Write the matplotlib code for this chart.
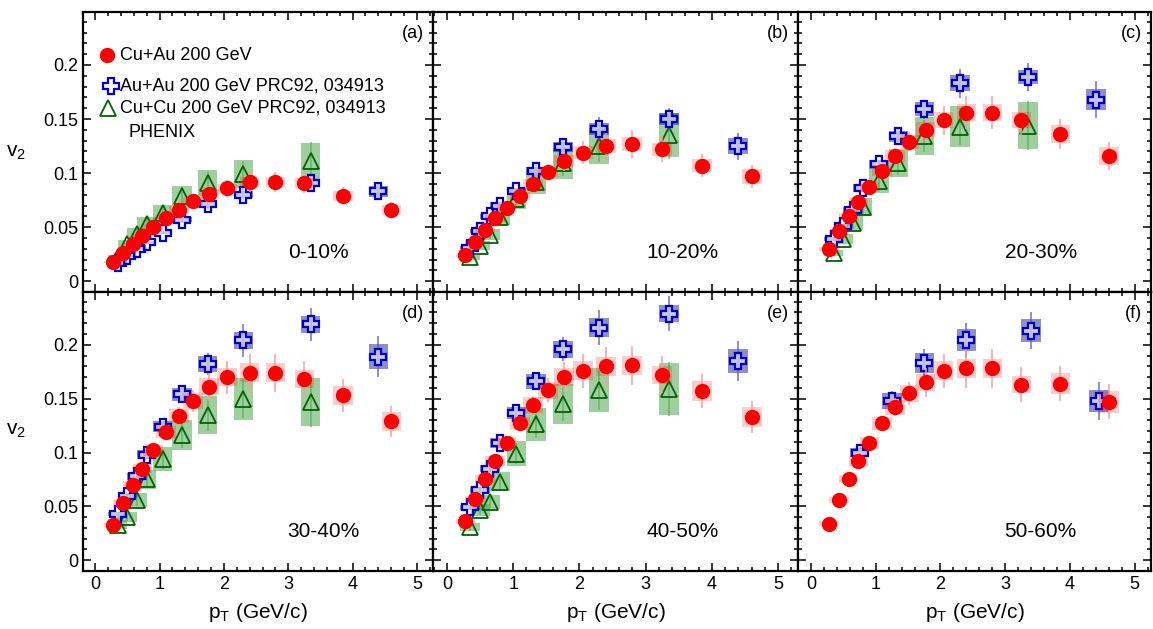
import numpy as np
import matplotlib
matplotlib.use("Agg")
from matplotlib import pyplot as plt
from matplotlib.ticker import MultipleLocator, FuncFormatter

plt.rcParams['font.family'] = ['Liberation Sans', 'DejaVu Sans']
plt.rcParams['mathtext.fontset'] = 'custom'
plt.rcParams['mathtext.rm'] = 'Liberation Sans'
plt.rcParams['mathtext.it'] = 'Liberation Sans:italic'

# Cu+Au 200 GeV (red circles)
pt_cuau = [0.28, 0.43, 0.58, 0.73, 0.90, 1.10, 1.30, 1.52, 1.77, 2.05, 2.40, 2.80, 3.25, 3.85, 4.60]
v2_cuau_a = [0.018, 0.026, 0.034, 0.042, 0.050, 0.058, 0.066, 0.074, 0.081, 0.086, 0.092, 0.092, 0.091, 0.079, 0.066]
v2_cuau_b = [0.024, 0.036, 0.047, 0.058, 0.068, 0.079, 0.090, 0.101, 0.111, 0.119, 0.125, 0.127, 0.122, 0.107, 0.097]
v2_cuau_c = [0.030, 0.046, 0.060, 0.073, 0.087, 0.102, 0.116, 0.129, 0.140, 0.149, 0.156, 0.156, 0.149, 0.136, 0.116]
v2_cuau_d = [0.033, 0.053, 0.070, 0.085, 0.102, 0.119, 0.134, 0.148, 0.161, 0.170, 0.174, 0.174, 0.168, 0.153, 0.129]
v2_cuau_e = [0.036, 0.057, 0.075, 0.092, 0.109, 0.127, 0.144, 0.158, 0.170, 0.176, 0.180, 0.181, 0.172, 0.157, 0.133]
v2_cuau_f = [0.034, 0.056, 0.075, 0.092, 0.109, 0.127, 0.142, 0.155, 0.165, 0.176, 0.178, 0.178, 0.163, 0.164, 0.147]
stat_cuau = [0.04, 0.04, 0.04, 0.04, 0.05, 0.05, 0.06, 0.07, 0.08, 0.09, 0.10, 0.10, 0.10, 0.10, 0.11]
sys_cuau = [0.06, 0.05, 0.05, 0.05, 0.05, 0.05, 0.05, 0.05, 0.05, 0.05, 0.05, 0.05, 0.05, 0.06, 0.07]

# Au+Au 200 GeV PHENIX (blue crosses)
pt_auau = [0.35, 0.50, 0.65, 0.80, 1.05, 1.35, 1.75, 2.30, 3.35, 4.40]
v2_auau_a = [0.017, 0.023, 0.030, 0.036, 0.045, 0.057, 0.071, 0.080, 0.091, 0.083]
v2_auau_b = [0.031, 0.046, 0.060, 0.070, 0.083, 0.102, 0.124, 0.141, 0.150, 0.125]
v2_auau_c = [0.039, 0.051, 0.066, 0.086, 0.108, 0.134, 0.159, 0.183, 0.189, 0.168]
v2_auau_d = [0.043, 0.060, 0.078, 0.098, 0.124, 0.154, 0.182, 0.204, 0.219, 0.189]
v2_auau_e = [0.049, 0.065, 0.085, 0.109, 0.137, 0.166, 0.196, 0.216, 0.229, 0.185]
stat_auau = [0.04, 0.04, 0.04, 0.04, 0.04, 0.05, 0.055, 0.075, 0.07, 0.10]
sys_auau = [0.04, 0.04, 0.04, 0.04, 0.04, 0.04, 0.04, 0.04, 0.035, 0.06]
pt_auau_f = [0.75, 1.25, 1.75, 2.40, 3.40, 4.45]
v2_auau_f = [0.100, 0.148, 0.183, 0.204, 0.213, 0.148]
stat_auau_f = [0.05, 0.06, 0.07, 0.08, 0.08, 0.12]
sys_auau_f = [0.04, 0.05, 0.05, 0.05, 0.05, 0.07]

# Cu+Cu 200 GeV PHENIX (green triangles)
pt_cucu = [0.35, 0.50, 0.65, 0.80, 1.05, 1.35, 1.75, 2.30, 3.35]
v2_cucu_a = [0.022, 0.034, 0.044, 0.053, 0.063, 0.079, 0.091, 0.099, 0.111]
v2_cucu_b = [0.022, 0.033, 0.043, 0.059, 0.076, 0.092, 0.109, 0.125, 0.135]
v2_cucu_c = [0.026, 0.039, 0.054, 0.069, 0.093, 0.109, 0.134, 0.143, 0.144]
v2_cucu_d = [0.033, 0.040, 0.056, 0.075, 0.094, 0.116, 0.135, 0.150, 0.147]
v2_cucu_e = [0.031, 0.047, 0.054, 0.073, 0.099, 0.126, 0.145, 0.158, 0.159]
stat_cucu = [0.12, 0.10, 0.10, 0.10, 0.10, 0.10, 0.11, 0.12, 0.16]
sys_cucu = [0.12, 0.12, 0.12, 0.12, 0.12, 0.12, 0.13, 0.13, 0.15]

panel_tags = ['(a)', '(b)', '(c)', '(d)', '(e)', '(f)']
centralities = ['0-10%', '10-20%', '20-30%', '30-40%', '40-50%', '50-60%']

cuau = [v2_cuau_a, v2_cuau_b, v2_cuau_c, v2_cuau_d, v2_cuau_e, v2_cuau_f]
auau = [(pt_auau, v2_auau_a, stat_auau, sys_auau), (pt_auau, v2_auau_b, stat_auau, sys_auau),
        (pt_auau, v2_auau_c, stat_auau, sys_auau), (pt_auau, v2_auau_d, stat_auau, sys_auau),
        (pt_auau, v2_auau_e, stat_auau, sys_auau), (pt_auau_f, v2_auau_f, stat_auau_f, sys_auau_f)]
cucu = [v2_cucu_a, v2_cucu_b, v2_cucu_c, v2_cucu_d, v2_cucu_e, None]


def draw_series(ax, x, y, stat, sys, boxcol, barcol, z, **mk):
    x = np.array(x)
    y = np.array(y)
    s = y * np.array(sys)
    ax.bar(x, 2 * s, bottom=y - s, width=0.3, color=boxcol, edgecolor='none', zorder=z)
    ax.errorbar(x, y, yerr=y * np.array(stat), fmt='none', ecolor=barcol,
                elinewidth=1.2, capsize=0, zorder=z + 1)
    ax.plot(x, y, ls='none', zorder=z + 2, **mk)


red_mk = dict(marker='o', ms=10, mfc='red', mec='red')
blue_mk = dict(marker='P', ms=11, mfc=(1, 1, 1, 0.55), mec='#0000cc', mew=1.6)
green_mk = dict(marker='^', ms=11, mfc='none', mec='#006400', mew=1.3)

fig = plt.figure(figsize=(11.53, 6.29), dpi=100)
W, H = 1153.0, 629.0
cols = [(83, 433), (433, 798), (798, 1151)]
rows = [(12, 292), (292, 571)]
xlims = [(-0.19, 5.25), (-0.21, 5.30), (-0.20, 5.25)]

axes = []
for i in range(6):
    r, c = divmod(i, 3)
    x0, x1 = cols[c]
    y0, y1 = rows[r]
    ax = fig.add_axes([x0 / W, 1 - y1 / H, (x1 - x0) / W, (y1 - y0) / H])
    axes.append(ax)

    # Cu+Cu
    if cucu[i] is not None:
        draw_series(ax, pt_cucu, cucu[i], stat_cucu, sys_cucu,
                    (0.25, 0.62, 0.25, 0.5), (0.35, 0.7, 0.35, 0.8), 2, **green_mk)
    # Au+Au
    px, py, pst, psy = auau[i]
    draw_series(ax, px, py, pst, psy, (0.2, 0.2, 0.6, 0.55), (0.35, 0.35, 0.75, 0.8), 5, **blue_mk)
    # Cu+Au
    draw_series(ax, pt_cuau, cuau[i], stat_cuau, sys_cuau,
                (1.0, 0.0, 0.0, 0.2), (1.0, 0.6, 0.6, 0.9), 8, **red_mk)

    ax.set_xlim(*xlims[c])
    ax.set_ylim(-0.01, 0.249)
    ax.xaxis.set_major_locator(MultipleLocator(1))
    ax.xaxis.set_minor_locator(MultipleLocator(0.2))
    ax.yaxis.set_major_locator(MultipleLocator(0.05))
    ax.yaxis.set_minor_locator(MultipleLocator(0.01))
    ax.tick_params(which='both', direction='in', top=True, right=True, width=1.1)
    ax.tick_params(which='major', length=6, labelsize=13)
    ax.tick_params(which='minor', length=3)
    for sp in ax.spines.values():
        sp.set_linewidth(1.6)
    ax.yaxis.set_major_formatter(FuncFormatter(lambda v, p: '%g' % round(v, 3)))
    if c != 0:
        ax.tick_params(labelleft=False)
    if r == 0:
        ax.tick_params(labelbottom=False)
    else:
        ax.set_xlabel(r'p$_\mathrm{T}$ (GeV/c)', fontsize=15, labelpad=6)

    ax.annotate(panel_tags[i], xy=(1, 1), xycoords='axes fraction', xytext=(-9, -21),
                textcoords='offset pixels', ha='right', va='center', fontsize=13)
    ax.text(0.585, 0.14, centralities[i], transform=ax.transAxes, ha='left',
            va='center', fontsize=15)

# legend in panel (a)
ax = axes[0]
ax.plot([0.068], [0.846], transform=ax.transAxes, ls='none', clip_on=False, **red_mk)
ax.plot([0.079], [0.736], transform=ax.transAxes, ls='none', clip_on=False,
        **dict(blue_mk, mfc='white'))
ax.plot([0.071], [0.657], transform=ax.transAxes, ls='none', clip_on=False, **green_mk)
ax.text(0.106, 0.846, 'Cu+Au 200 GeV', transform=ax.transAxes, va='center', fontsize=13)
ax.text(0.106, 0.736, 'Au+Au 200 GeV PRC92, 034913', transform=ax.transAxes, va='center', fontsize=13)
ax.text(0.106, 0.657, 'Cu+Cu 200 GeV PRC92, 034913', transform=ax.transAxes, va='center', fontsize=13)
ax.text(0.129, 0.568, 'PHENIX', transform=ax.transAxes, va='center', fontsize=13)

fig.text(16 / W, 1 - 152 / H, r'v$_2$', ha='center', va='center', fontsize=15)
fig.text(16 / W, 1 - 431 / H, r'v$_2$', ha='center', va='center', fontsize=15)

fig.savefig('out.png', dpi=100)
